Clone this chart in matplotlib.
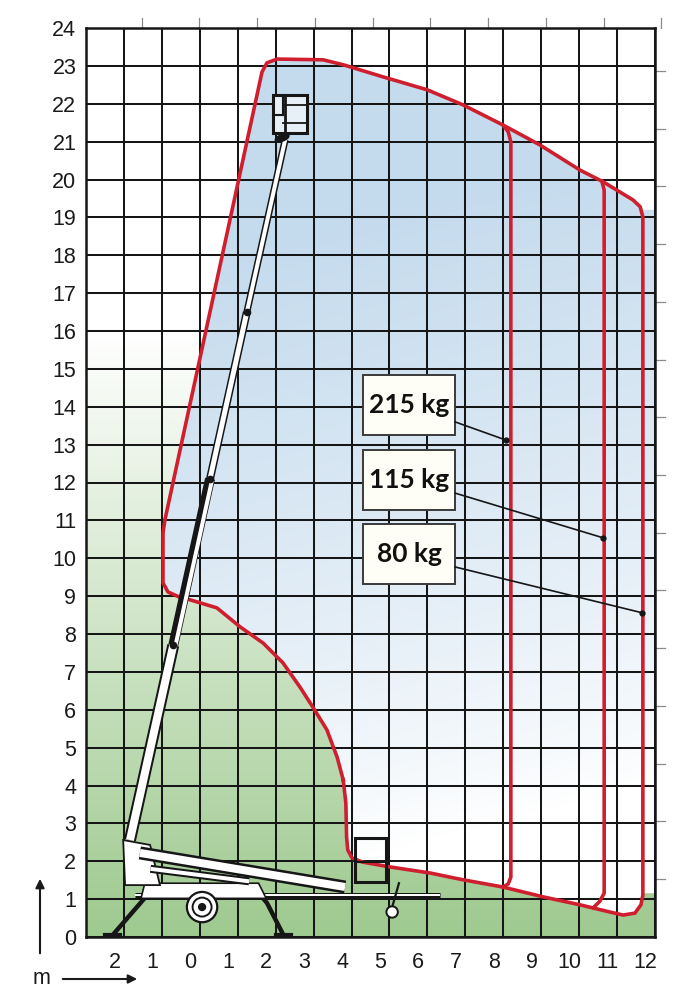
import numpy as np
import matplotlib
matplotlib.use("Agg")
import matplotlib.pyplot as plt
from matplotlib.path import Path
from matplotlib.patches import Rectangle, Circle, Polygon, Ellipse, FancyArrowPatch

plt.rcParams['font.family'] = ['Liberation Sans', 'DejaVu Sans']

# ---------------- data ----------------
x_label_pos = [-2, -1, 0, 1, 2, 3, 4, 5, 6, 7, 8, 9, 10, 11, 12]
x_labels = ['2', '1', '0', '1', '2', '3', '4', '5', '6', '7', '8', '9', '10', '11', '12']
y_ticks = list(range(0, 25))

# outer working envelope (80 kg)
env_x = [4.03, 4.10, 4.12, 4.15, 4.26, 4.53,
         5.26, 6.32, 7.19, 8.24, 9.30, 10.27, 11.06, 11.41, 11.72, 11.88,
         11.93, 11.93, 11.86, 11.67,
         10.88, 10.27, 9.22, 8.24, 7.19, 6.24, 5.08, 4.03, 3.50, 2.29, 2.02, 1.89,
         -0.67, -0.72, -0.72, -0.59, -0.30,
         0.00, 0.70, 1.31, 1.92, 2.44, 2.89, 3.23, 3.60, 3.87, 4.03]
env_y = [4.15, 3.54, 2.64, 2.30, 2.09, 1.98,
         1.85, 1.69, 1.51, 1.32, 1.06, 0.85, 0.66, 0.58, 0.63, 0.85,
         1.11, 19.01, 19.28, 19.46,
         19.94, 20.25, 20.91, 21.44, 21.97, 22.37, 22.71, 23.03, 23.16, 23.18, 23.08, 22.84,
         11.01, 10.67, 9.35, 9.11, 8.98,
         8.90, 8.69, 8.19, 7.76, 7.24, 6.60, 6.07, 5.47, 4.75, 4.15]

# 215 kg outreach limit
cap215_x = [8.24, 8.38, 8.45, 8.45, 8.38, 8.24]
cap215_y = [21.44, 21.26, 20.99, 1.58, 1.40, 1.32]
# 115 kg outreach limit
cap115_x = [10.85, 10.91, 10.91, 10.80, 10.62]
cap115_y = [19.95, 19.72, 1.16, 0.95, 0.77]

load_labels = ['215 kg', '115 kg', '80 kg']
label_box_y = [14.05, 12.07, 10.12]
leader_end_x = [8.32, 10.88, 11.91]
leader_end_y = [13.12, 10.54, 8.56]
leader_start_y = [13.60, 11.72, 9.77]

# secondary (5 ft) tick marks
ft_ticks_x = [-1.27, 0.24, 1.76, 3.29, 4.81, 6.33, 7.86, 9.38, 10.90, 12.41]
ft_ticks_y = [1.53, 3.05, 4.58, 6.10, 7.62, 9.15, 10.67, 12.19, 13.72, 15.24,
              16.77, 18.29, 19.82, 21.34, 22.87]

# machine sketch (metres)
boom_x = [-1.59, -0.45, 0.52, 1.49, 2.50]
boom_y = [2.56, 7.70, 12.10, 16.50, 21.05]

XMIN, XMAX, YMIN, YMAX = -2.75, 12.25, 0, 24
RED = '#cf1f2e'
INK = '#161616'

fig = plt.figure(figsize=(6.82, 10), dpi=100)
ax = fig.add_axes([86 / 682, 63 / 1000, 569 / 682, 909 / 1000])
ax.set_xlim(XMIN, XMAX)
ax.set_ylim(YMIN, YMAX)

# ---------------- background shading ----------------
nx, ny = 700, 1100
xs = np.linspace(XMIN, XMAX, nx)
ys = np.linspace(YMIN, YMAX, ny)
X, Y = np.meshgrid(xs, ys)
env_path = Path(np.column_stack([env_x, env_y]))
inside = env_path.contains_points(np.column_stack([X.ravel(), Y.ravel()])).reshape(X.shape)
inside |= (X > 11.9) & (Y > 1.15) & (Y < 19.2)
green = np.array([0.62, 0.79, 0.56])
blue = np.array([0.77, 0.857, 0.93])
wg = np.clip(1 - Y / 16.0, 0, 1) ** 1.0
wb = np.clip((Y - 2.0) / 17.0 - (X - 4) * 0.015, 0, 1) ** 0.8
img = np.ones(X.shape + (3,))
for c in range(3):
    out_c = 1 - wg * (1 - green[c])
    in_c = 1 - wb * (1 - blue[c])
    img[..., c] = np.where(inside, in_c, out_c)
ax.imshow(img, extent=[XMIN, XMAX, YMIN, YMAX], origin='lower', aspect='auto',
          zorder=0, interpolation='bilinear')

# ---------------- grid ----------------
for gx in np.arange(XMIN, XMAX + 0.01, 1.0):
    ax.axvline(gx, color=INK, lw=1.45, zorder=1)
for gy in y_ticks:
    ax.axhline(gy, color=INK, lw=1.45, zorder=1)

for s in ax.spines.values():
    s.set_color(INK)
    s.set_linewidth(1.8)

ax.set_xticks(x_label_pos)
ax.set_xticklabels(x_labels)
ax.set_yticks(y_ticks)
ax.tick_params(axis='both', length=0, labelsize=15.5, colors='#1a1a1a')
ax.tick_params(axis='x', pad=11)
ax.tick_params(axis='y', pad=7)

for fx in ft_ticks_x:
    ax.plot([fx, fx], [YMAX, YMAX + 0.27], color='#8a8a8a', lw=0.9, clip_on=False, zorder=1)
for fy in ft_ticks_y:
    ax.plot([XMAX, XMAX + 0.27], [fy, fy], color='#8a8a8a', lw=0.9, clip_on=False, zorder=1)

# ---------------- envelope ----------------
ax.plot(env_x, env_y, color=RED, lw=2.6, solid_joinstyle='round', zorder=3)
ax.plot(cap215_x, cap215_y, color=RED, lw=2.6, solid_joinstyle='round', zorder=3)
ax.plot(cap115_x, cap115_y, color=RED, lw=2.6, solid_joinstyle='round', zorder=3)

# ---------------- machine sketch ----------------
PX = 0.72


def bar(x0, y0, x1, y1, w_out, w_in, z=5, dx=0.0):
    ax.plot([x0, x1], [y0, y1], color=INK, lw=w_out * PX, solid_capstyle='butt', zorder=z)
    ax.plot([x0 + dx, x1 + dx], [y0, y1], color='white', lw=w_in * PX,
            solid_capstyle='butt', zorder=z + 0.1)


# chassis body and legs
ax.plot([-1.14, -2.04], [1.10, 0.06], color=INK, lw=3.2, zorder=4)
ax.plot([-2.25, -1.85], [0.04, 0.04], color=INK, lw=3.0, zorder=4)
ax.plot([1.85, 2.02, 2.44], [1.10, 0.90, 0.08], color=INK, lw=3.2, zorder=4)
ax.plot([2.25, 2.65], [0.04, 0.04], color=INK, lw=3.0, zorder=4)
bar(-1.45, 1.12, 6.58, 1.12, 5, 2, z=4)
ax.add_patch(Polygon([(-1.3, 1.02), (2.0, 1.02), (1.8, 1.42), (-1.2, 1.42)],
                     closed=True, fc='white', ec=INK, lw=1.2, zorder=4.2))
ax.add_patch(Circle((0.31, 0.79), 0.40, fc='white', ec=INK, lw=1.6, zorder=4.5))
ax.add_patch(Circle((0.31, 0.79), 0.25, fc='white', ec=INK, lw=1.4, zorder=4.6))
ax.add_patch(Circle((0.31, 0.79), 0.09, fc=INK, ec=INK, lw=1, zorder=4.7))
ax.plot([5.50, 5.33], [1.42, 0.82], color=INK, lw=1.6, zorder=4.5)
ax.add_patch(Circle((5.32, 0.66), 0.15, fc='white', ec=INK, lw=1.4, zorder=4.6))

# turret
ax.add_patch(Polygon([(-1.77, 2.56), (-1.06, 2.43), (-0.80, 1.37), (-1.72, 1.37)],
                     closed=True, fc='white', ec=INK, lw=1.3, zorder=5))
# lower arm
bar(-1.33, 2.22, 4.08, 1.32, 13, 8, z=5.2)
bar(-1.05, 1.80, 1.55, 1.47, 8, 4, z=5.1)
# stowed basket
ax.add_patch(Rectangle((4.34, 1.45), 0.82, 1.16, fill=False, ec=INK, lw=2.2, zorder=5.5))
ax.plot([4.34, 5.16], [1.98, 1.98], color=INK, lw=1.5, zorder=5.5)

# telescopic boom
boom_w_out = [12, 10, 8, 7]
boom_w_in = [8, 4, 5, 4]
boom_dx = [0.0, 0.06, 0.0, 0.0]
for i in range(4):
    bar(boom_x[i], boom_y[i], boom_x[i + 1], boom_y[i + 1], boom_w_out[i], boom_w_in[i],
        z=6, dx=boom_dx[i])
ax.plot(boom_x[1:4], boom_y[1:4], 'o', color=INK, ms=4.5, zorder=6.5)

# platform basket
ax.add_patch(Ellipse((2.42, 21.10), 0.38, 0.17, angle=20, color=INK, zorder=6.6))
ax.add_patch(Rectangle((2.18, 21.23), 0.90, 1.00, fc='#e8f0f7', ec=INK, lw=2.2, zorder=6.7))
ax.plot([2.44, 2.44], [21.71, 22.23], color=INK, lw=1.5, zorder=6.8)
ax.plot([2.18, 2.44], [21.71, 21.71], color=INK, lw=1.5, zorder=6.8)
ax.plot([2.44, 3.08], [21.97, 21.97], color=INK, lw=1.3, zorder=6.8)
ax.plot([2.44, 3.08], [21.50, 21.50], color=INK, lw=1.3, zorder=6.8)
ax.plot([2.50, 2.50], [21.23, 22.23], color=INK, lw=2.0, zorder=6.8)

# ---------------- load labels ----------------
for lab, by, ex, ey, sy in zip(load_labels, label_box_y, leader_end_x, leader_end_y, leader_start_y):
    ax.add_patch(Rectangle((4.55, by - 0.79), 2.43, 1.58, fc='#fffef6', ec='#3a3a3a',
                           lw=1.4, zorder=8))
    ax.text(5.77, by, lab, ha='center', va='center', fontsize=19, fontweight='bold',
            family=['Lato', 'DejaVu Sans'], color='#111', zorder=9)
    ax.plot([6.98, ex], [sy, ey], color=INK, lw=1.2, zorder=8)
    ax.plot([ex], [ey], 'o', color=INK, ms=3.5, zorder=8)

# ---------------- unit arrows ----------------
fig.text(41 / 682, 1 - 979 / 1000, 'm', ha='center', va='center', fontsize=15.5, color='#1a1a1a')
fig.add_artist(FancyArrowPatch((60 / 682, 1 - 979 / 1000), (140 / 682, 1 - 979 / 1000),
                               transform=fig.transFigure, arrowstyle='-|>',
                               mutation_scale=13, lw=1.5, color='#1a1a1a'))
fig.add_artist(FancyArrowPatch((40 / 682, 1 - 956 / 1000), (40 / 682, 1 - 876 / 1000),
                               transform=fig.transFigure, arrowstyle='-|>',
                               mutation_scale=13, lw=1.5, color='#1a1a1a'))

fig.savefig('out.png', dpi=100)
